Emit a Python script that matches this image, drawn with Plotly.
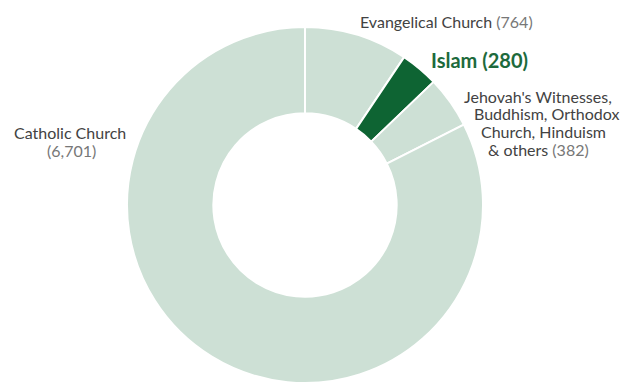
import plotly.graph_objects as go

labels = ["Evangelical Church", "Islam",
          "Jehovah's Witnesses, Buddhism, Orthodox Church, Hinduism & others",
          "Catholic Church"]
values = [764, 280, 382, 6701]
colors = ["#cde0d5", "#0e6433", "#cde0d5", "#cde0d5"]

W, H = 634, 386
OFF = 8  # page body margin
cx, cy, r = 305 - OFF, 205 - OFF, 178

fig = go.Figure(go.Pie(
    labels=labels, values=values, sort=False, direction="clockwise", rotation=0,
    hole=0.515, textinfo="none", hoverinfo="label+value",
    marker=dict(colors=colors, line=dict(color="white", width=2)),
    domain=dict(x=[(cx - r) / W, (cx + r) / W], y=[(H - cy - r) / H, (H - cy + r) / H]),
    showlegend=False,
))

name_c = "#424242"
num_c = "#777777"
font = "Lato"

def fmt(v):
    return f"{v:,}"

def nm(s):
    return f"<span style='color:{name_c}'>{s}</span>"

def num(v):
    return f"<span style='color:{num_c}'>({fmt(v)})</span>"

# (x, y, text, size, color)
lines = [
    (446, 21, f"{nm(labels[0])} {num(values[0])}", 16, name_c),
    (479, 60, f"<b>{labels[1]} ({fmt(values[1])})</b>", 20, "#1d6a3c"),
    (538, 97, nm("Jehovah's Witnesses,"), 16, name_c),
    (546, 114, nm("Buddhism, Orthodox"), 16, name_c),
    (543, 131, nm("Church, Hinduism"), 16, name_c),
    (538, 149, f"{nm('&amp; others')} {num(values[2])}", 16, name_c),
    (70, 132, nm(labels[3]), 16, name_c),
    (71, 150, num(values[3]), 16, name_c),
]
annotations = []
for x, y, t, s, c in lines:
    annotations.append(dict(x=(x - OFF) / W, y=1 - (y - OFF) / H, xref="paper", yref="paper",
                            text=t, showarrow=False, align="center",
                            xanchor="center", yanchor="middle",
                            font=dict(family=font, size=s, color=c)))

fig.update_layout(width=W, height=H, margin=dict(l=0, r=0, t=0, b=0),
                  paper_bgcolor="white", plot_bgcolor="white",
                  annotations=annotations)
fig.write_html("out.html")
